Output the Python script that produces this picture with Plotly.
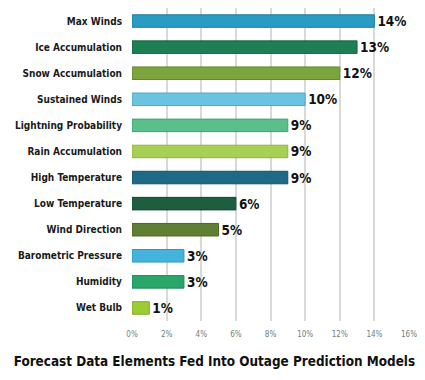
import plotly.graph_objects as go

categories = ["Max Winds", "Ice Accumulation", "Snow Accumulation", "Sustained Winds",
              "Lightning Probability", "Rain Accumulation", "High Temperature",
              "Low Temperature", "Wind Direction", "Barometric Pressure", "Humidity", "Wet Bulb"]
values = [14, 13, 12, 10, 9, 9, 9, 6, 5, 3, 3, 1]
labels = ["14%", "13%", "12%", "10%", "9%", "9%", "9%", "6%", "5%", "3%", "3%", "1%"]
colors = ["#2a9bc3", "#1e7f55", "#7da53d", "#6ac3e0", "#5abf8a", "#a8cf55",
          "#1e6a86", "#1e5e40", "#5f7f35", "#45b4dc", "#2aa66a", "#9dcb36"]
edge_colors = ["#1f7fa0", "#17643f", "#62852c", "#4ea6c4", "#3fa46e", "#8cb43e",
               "#154f66", "#15462f", "#486427", "#2f97bd", "#1e8a55", "#80ac26"]
tick_vals = [0, 2, 4, 6, 8, 10, 12, 14, 16]
tick_text = ["0%", "2%", "4%", "6%", "8%", "10%", "12%", "14%", "16%"]
title_text = "Forecast Data Elements Fed Into Outage Prediction Models"

COND = "DejaVu Sans Condensed"

fig = go.Figure(go.Bar(
    x=values, y=categories, orientation="h",
    marker=dict(color=colors, line=dict(color=edge_colors, width=1)),
    text=labels, textposition="outside", cliponaxis=False, constraintext="none",
    textfont=dict(family=COND, size=13.5, color="#111111", weight="bold"),
    width=0.48,
))

# the page body adds an 8px offset, so the figure is sized to fit the window
fig.update_layout(
    width=417, height=372,
    margin=dict(l=124, r=16, t=0, b=59),
    paper_bgcolor="white", plot_bgcolor="white",
    showlegend=False,
    bargap=0.5,
    font=dict(family=COND),
    title=dict(text="<b>" + title_text + "</b>", x=0.495, xanchor="center", xref="container",
               y=0.05, yanchor="middle", yref="container",
               font=dict(family=COND, size=13.4, color="#111111")),
)
fig.update_xaxes(
    range=[0, 16], tickvals=tick_vals, ticktext=tick_text, automargin=False,
    showgrid=True, gridcolor="#d9d9d9", gridwidth=2,
    zeroline=False, showline=False,
    ticks="outside", ticklen=5, tickcolor="rgba(0,0,0,0)",
    tickfont=dict(family=COND, size=8, color="#6f807b"),
)
fig.update_yaxes(
    autorange="reversed", showgrid=False, showline=False, zeroline=False, automargin=False,
    ticks="outside", ticklen=7, tickcolor="rgba(0,0,0,0)",
    tickfont=dict(family=COND, size=10, color="#1a1a1a", weight="bold"),
)

fig.write_html("out.html")
